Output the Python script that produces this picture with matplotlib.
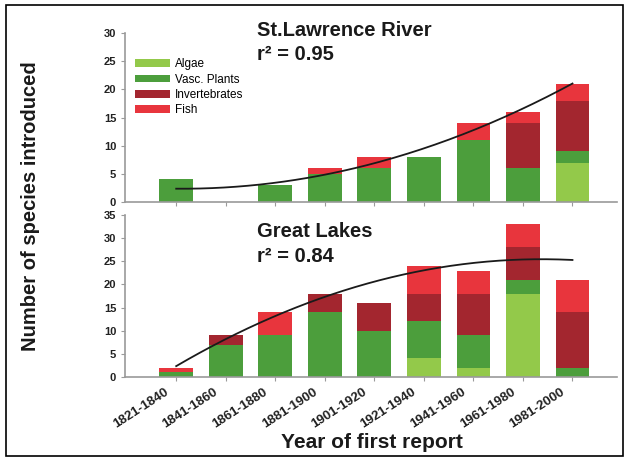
import numpy as np
import matplotlib
matplotlib.use('Agg')
import matplotlib.pyplot as plt
import matplotlib.transforms as mtransforms
from matplotlib.patches import Rectangle

plt.rcParams['font.family'] = ['Liberation Sans', 'DejaVu Sans']

periods = ['1821-1840', '1841-1860', '1861-1880', '1881-1900', '1901-1920',
           '1921-1940', '1941-1960', '1961-1980', '1981-2000']
groups = ['Algae', 'Vasc. Plants', 'Invertebrates', 'Fish']
colors = ['#93c94a', '#4c9e3c', '#a3262f', '#e8353d']

# St. Lawrence River
sl_algae = [0, 0, 0, 0, 0, 0, 0, 0, 7]
sl_vasc = [4, 0, 3, 5, 6, 8, 11, 6, 2]
sl_inv = [0, 0, 0, 0, 0, 0, 0, 8, 9]
sl_fish = [0, 0, 0, 1, 2, 0, 3, 2, 3]
sl_r2 = '0.95'

# Great Lakes
gl_algae = [0, 0, 0, 0, 0, 4, 2, 18, 0]
gl_vasc = [1, 7, 9, 14, 10, 8, 7, 3, 2]
gl_inv = [0, 2, 0, 4, 6, 6, 9, 7, 12]
gl_fish = [1, 0, 5, 0, 0, 6, 5, 5, 7]
gl_r2 = '0.84'

fig = plt.figure(figsize=(6.29, 4.61), dpi=100)
ax1 = fig.add_axes([0.199, 0.5618, 0.782, 0.3666])
ax2 = fig.add_axes([0.199, 0.1822, 0.782, 0.3514])

x = np.arange(len(periods))
grey = '#9a9a9a'


def draw_panel(ax, series, title, r2, ymax, show_labels, ty, ry):
    bottom = np.zeros(len(periods))
    for vals, col, name in zip(series, colors, groups):
        vals = np.array(vals, dtype=float)
        ax.bar(x, vals, 0.68, bottom=bottom, color=col, label=name,
               edgecolor='none', zorder=2)
        bottom += vals
    # quadratic trend through totals
    coef = np.polyfit(x, bottom, 2)
    xs = np.linspace(0, 8, 200)
    ax.plot(xs, np.polyval(coef, xs), color='#1a1a1a', lw=1.3, zorder=3)
    ax.set_xlim(-1.03, 8.9)
    ax.set_ylim(0, ymax)
    ax.set_yticks(np.arange(0, ymax + 1, 5))
    ax.set_xticks(x)
    for s in ['top', 'right']:
        ax.spines[s].set_visible(False)
    for s in ['left', 'bottom']:
        ax.spines[s].set_color(grey)
        ax.spines[s].set_linewidth(1.2)
    ax.tick_params(axis='both', colors=grey, length=3, width=0.8)
    for lab in ax.get_yticklabels():
        lab.set_color('#222222')
        lab.set_fontsize(8)
        lab.set_fontweight('bold')
    if show_labels:
        ax.set_xticklabels(periods, rotation=33, ha='right', rotation_mode='anchor',
                           fontsize=9.5, fontweight='bold', color='#222222')
        shift = mtransforms.ScaledTranslation(-0.12, 0, fig.dpi_scale_trans)
        for lab in ax.get_xticklabels():
            lab.set_transform(lab.get_transform() + shift)
    else:
        ax.set_xticklabels([])
    ax.text(0.268, ty, title, transform=ax.transAxes, fontsize=14.5,
            fontweight='bold', va='top', color='#1a1a1a', clip_on=False)
    ax.text(0.268, ry, 'r\u00b2 = ' + r2, transform=ax.transAxes, fontsize=14.5,
            fontweight='bold', va='top', color='#1a1a1a')


draw_panel(ax1, [sl_algae, sl_vasc, sl_inv, sl_fish], 'St.Lawrence River', sl_r2, 30,
           False, 1.07, 0.93)
draw_panel(ax2, [gl_algae, gl_vasc, gl_inv, gl_fish], 'Great Lakes', gl_r2, 35,
           True, 0.955, 0.8)

ax1.legend(loc='upper left', bbox_to_anchor=(0.02, 0.85), frameon=False, fontsize=8.5,
           borderaxespad=0, borderpad=0, handlelength=3.0, handleheight=0.6,
           labelspacing=0.28, handletextpad=0.4)

fig.text(0.048, 0.553, 'Number of species introduced', rotation=90, fontsize=14.5,
         fontweight='bold', ha='center', va='center', color='#1a1a1a')
fig.text(0.592, 0.041, 'Year of first report', fontsize=15, fontweight='bold',
         ha='center', va='center', color='#1a1a1a')

fig.patches.append(Rectangle((0.01, 0.011), 0.98, 0.978, transform=fig.transFigure,
                             fill=False, edgecolor='black', lw=1.2))

fig.savefig('out.png', dpi=100)
